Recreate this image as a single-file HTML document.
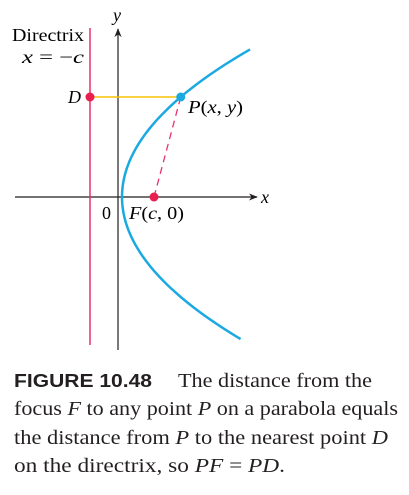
<!DOCTYPE html>
<html><head><meta charset="utf-8"><style>
html,body{margin:0;padding:0;background:#fff;}
svg{display:block;font-family:"Liberation Serif",serif;}
.it{font-style:italic;}
</style></head><body>
<svg id="fig" width="409" height="495" viewBox="0 0 409 495" xmlns="http://www.w3.org/2000/svg">
<defs>
<marker id="ar" viewBox="0 0 10 10" refX="9" refY="5" markerWidth="9" markerHeight="9" orient="auto" markerUnits="userSpaceOnUse"><path d="M0,1 L10,5 L0,9 L3,5 z" fill="#231f20"/></marker>
</defs>
<line x1="15" y1="197" x2="257" y2="197" stroke="#231f20" stroke-width="1.2" marker-end="url(#ar)"/>
<line x1="118" y1="350" x2="118" y2="29" stroke="#231f20" stroke-width="1.2" marker-end="url(#ar)"/>
<text class="it" x="261" y="203" font-size="18">x</text>
<text class="it" x="113" y="21" font-size="18">y</text>
<line x1="90" y1="28" x2="90" y2="345" stroke="#e8336a" stroke-width="1.5"/>
<text x="12" y="41" font-size="18" textLength="72" lengthAdjust="spacingAndGlyphs">Directrix</text>
<text x="22" y="63" font-size="18" textLength="62" lengthAdjust="spacingAndGlyphs"><tspan class="it">x</tspan> = −<tspan class="it">c</tspan></text>
<g id="marks"></g>
<text class="it" x="68" y="103" font-size="18">D</text>
<text x="188" y="113" font-size="18" textLength="55" lengthAdjust="spacingAndGlyphs"><tspan class="it">P</tspan>(<tspan class="it">x</tspan>, <tspan class="it">y</tspan>)</text>
<text x="102" y="219" font-size="18">0</text>
<text x="129" y="219" font-size="18" textLength="55" lengthAdjust="spacingAndGlyphs"><tspan class="it">F</tspan>(<tspan class="it">c</tspan>, 0)</text>
<g font-size="20" fill="#231f20">
<text x="14" y="387" font-size="18" font-family="Liberation Sans, sans-serif" font-weight="bold" textLength="138" lengthAdjust="spacingAndGlyphs">FIGURE 10.48</text>
<text x="178" y="387" textLength="194" lengthAdjust="spacingAndGlyphs">The distance from the</text>
<text x="14" y="415" textLength="384" lengthAdjust="spacingAndGlyphs">focus <tspan class="it">F</tspan> to any point <tspan class="it">P</tspan> on a parabola equals</text>
<text x="14" y="444" textLength="374" lengthAdjust="spacingAndGlyphs">the distance from <tspan class="it">P</tspan> to the nearest point <tspan class="it">D</tspan></text>
<text x="14" y="472" textLength="271" lengthAdjust="spacingAndGlyphs">on the directrix, so <tspan class="it">PF</tspan> = <tspan class="it">PD</tspan>.</text>
</g>
</svg>
<script>
// math units: focus c, point P y-value, curve y-range
const focusC = [1];
const pointY = [2.71];
const curveYRange = [-3.85, 4.0];
// axis functions
const ox = 122, oy = 197, unitX = 32, unitY = 36.9;
const sx = v => ox + v * unitX;
const sy = v => oy - v * unitY;
const ns = 'http://www.w3.org/2000/svg';
const g = document.getElementById('marks');
function mk(t, a) { const e = document.createElementNS(ns, t); for (const k in a) e.setAttribute(k, a[k]); g.appendChild(e); return e; }
const c = focusC[0];
const py = pointY[0];
const px = py * py / (4 * c);
let d = '';
for (let i = 0; i <= 80; i++) {
  const y = curveYRange[0] + (curveYRange[1] - curveYRange[0]) * i / 80;
  const x = y * y / (4 * c);
  d += (i ? 'L' : 'M') + sx(x).toFixed(2) + ',' + sy(y).toFixed(2);
}
const curve = mk('path', {d: d, fill: 'none', stroke: '#1ba9e1', 'stroke-width': 2.5});


const pd = mk('line', {x1: sx(-c), y1: sy(py), x2: sx(px), y2: sy(py), stroke: '#f5c400', 'stroke-width': 1.5});


const pf = mk('line', {x1: sx(c), y1: sy(0), x2: sx(px), y2: sy(py), stroke: '#e8336a', 'stroke-width': 1.3, 'stroke-dasharray': '7,5'});


const dp = mk('circle', {cx: sx(-c), cy: sy(py), r: 4.5, fill: '#e8204f'});


const fp = mk('circle', {cx: sx(c), cy: sy(0), r: 4.5, fill: '#e8204f'});


const pp = mk('circle', {cx: sx(px), cy: sy(py), r: 4.5, fill: '#1ba9e1'});


</script>
</body></html>
